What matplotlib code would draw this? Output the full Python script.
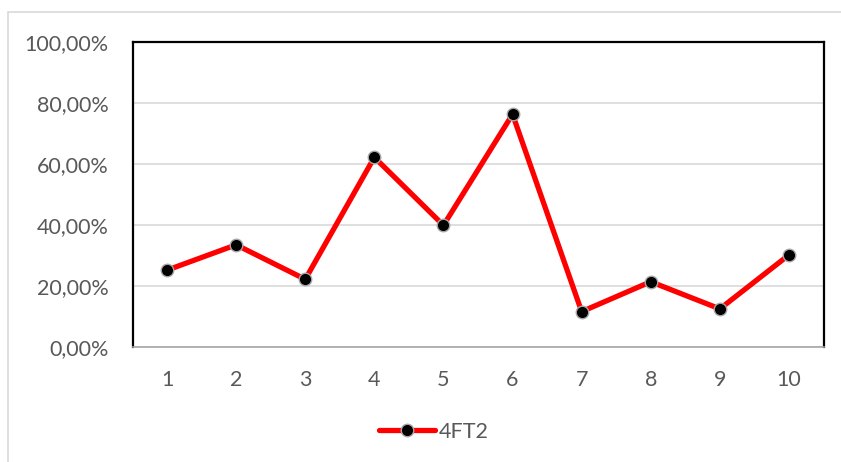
import matplotlib
matplotlib.use("Agg")
import matplotlib.pyplot as plt
from matplotlib.patches import Rectangle
from matplotlib.ticker import FuncFormatter, MultipleLocator
from matplotlib.lines import Line2D

categories = ["1", "2", "3", "4", "5", "6", "7", "8", "9", "10"]
values = [25.1, 33.4, 22.1, 62.1, 39.8, 76.2, 11.5, 21.3, 12.4, 30.1]
series_name = "4FT2"

plt.rcParams["font.family"] = ["Lato", "DejaVu Sans"]

fig = plt.figure(figsize=(8.41, 4.62), dpi=100)
fig.patch.set_facecolor("white")

# light outer chart frame
fig.add_artist(Rectangle((8 / 841, -0.1), 1.2, 1 - 12 / 462 + 0.1,
                         transform=fig.transFigure, fill=False,
                         edgecolor="#D9D9D9", linewidth=1.2))

ax = fig.add_axes([132.5 / 841, 1 - 346.7 / 462,
                   (823.5 - 132.5) / 841, (346.7 - 41.7) / 462])

x = list(range(len(categories)))
ax.plot(x, values, color="#FF0000", linewidth=3.8, solid_capstyle="round",
        marker="o", markersize=9, markerfacecolor="black",
        markeredgecolor="#A6A6A6", markeredgewidth=1.0, zorder=3)

ax.set_xlim(-0.5, len(categories) - 0.5)
ax.set_ylim(0, 100)
ax.set_xticks(x)
ax.set_xticklabels(categories)
ax.yaxis.set_major_locator(MultipleLocator(20))
ax.yaxis.set_major_formatter(FuncFormatter(lambda v, p: f"{v:.2f}%".replace(".", ",")))

ax.grid(axis="y", color="#D9D9D9", linewidth=1.2, zorder=0)
ax.set_axisbelow(True)
ax.tick_params(axis="both", length=0, labelsize=15.5, labelcolor="#595959")
ax.tick_params(axis="x", pad=17)
ax.tick_params(axis="y", pad=17)

for side in ["top", "left", "right"]:
    ax.spines[side].set_color("black")
    ax.spines[side].set_linewidth(1.6)
ax.spines["bottom"].set_color("#A6A6A6")
ax.spines["bottom"].set_linewidth(1.2)

handle = Line2D([], [], color="#FF0000", linewidth=3.8, solid_capstyle="round",
                marker="o", markersize=9, markerfacecolor="black",
                markeredgecolor="#A6A6A6", markeredgewidth=1.0)
fig.legend([handle], [series_name], loc="center", bbox_to_anchor=(434 / 841, 1 - 432 / 462),
           frameon=False, fontsize=15.5, labelcolor="#595959", handlelength=2.6,
           handletextpad=0.2)

fig.savefig("out.png", dpi=100, facecolor="white")
